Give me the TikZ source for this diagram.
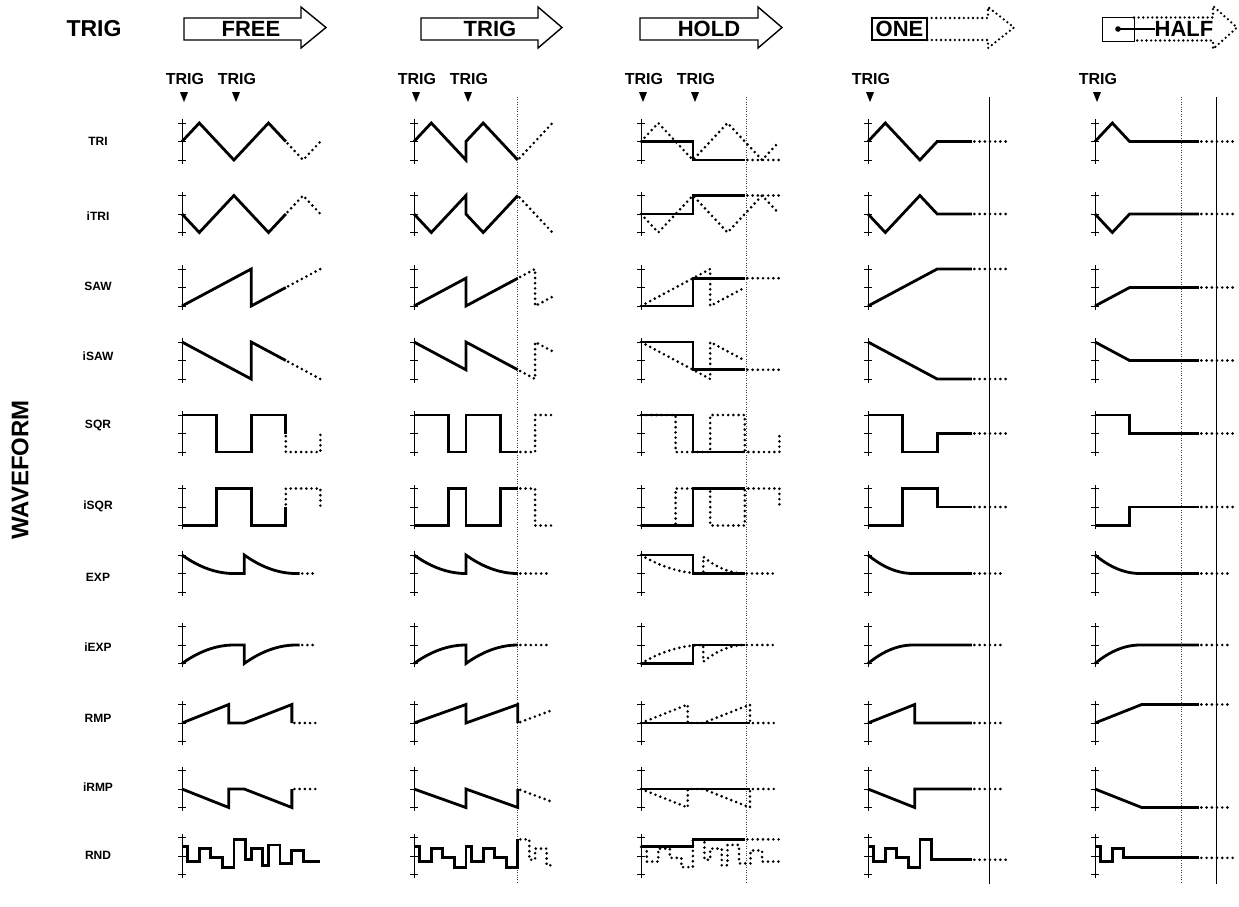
\documentclass[tikz,border=0pt]{standalone}
\usepackage{fontspec}
\setmainfont{Liberation Sans}
\newcommand\wcell[3]{%
 \begin{scope}[shift={(#1,#2)},xscale=17.3,yscale=-18.5]
 \draw[axisln] (0,-1.2) -- (0,1.2) (-0.23,1)--(0.23,1) (-0.23,0)--(0.23,0) (-0.23,-1)--(0.23,-1);
 #3
 \end{scope}}
\begin{document}
\begin{tikzpicture}[x=1pt,y=-1pt,
 wave/.style={line width=2.8pt, line join=miter, miter limit=6},
 dotw/.style={line width=2.9pt, line cap=round, dash pattern=on 0pt off 5.2pt},
 dotc/.style={dotw, dash phase=2.6pt},
 axisln/.style={line width=1pt},
 gdot/.style={line width=0.6pt, black!75, dash pattern=on 0.9pt off 1.5pt},
 gsolid/.style={line width=1pt},
 rowlbl/.style={font=\fontsize{12}{13}\selectfont\bfseries, inner sep=0pt},
 triglbl/.style={font=\fontsize{16}{17}\selectfont\bfseries, inner sep=0pt},
 hdr/.style={font=\fontsize{22}{23}\selectfont\bfseries, inner sep=0pt},
 arrowbox/.style={line width=1.4pt, line join=miter},
 arrowdot/.style={line width=2.6pt, line cap=round, dash pattern=on 0pt off 4.6pt}
]
\fill[white] (0,0) rectangle (1239,906);
\useasboundingbox (0,0) rectangle (1239,906);

% ---------- header ----------
\node[hdr, font=\fontsize{23}{24}\selectfont\bfseries] (hTrig) at (94,28.5) {TRIG};
\node[rotate=90, font=\fontsize{24}{25}\selectfont\bfseries, inner sep=0pt] (wav) at (20,470) {WAVEFORM};

\draw[arrowbox] (184,18)--(301,18)--(301,7)--(326,27.5)--(301,48)--(301,40)--(184,40)--cycle;
\node[hdr] (aFree) at (251,29) {FREE};
\draw[arrowbox] (421,18)--(538,18)--(538,7)--(562,27.5)--(538,48)--(538,40)--(421,40)--cycle;
\node[hdr] (aTrig) at (490,29) {TRIG};
\draw[arrowbox] (640,18)--(758,18)--(758,7)--(782,27.5)--(758,48)--(758,40)--(640,40)--cycle;
\node[hdr] (aHold) at (709,29) {HOLD};
\draw[arrowdot] (927,18)--(988,18)--(988,7)--(1014,27.5)--(988,48)--(988,40)--(927,40);
\draw[line width=1.8pt] (872,18) rectangle (927,40);
\node[hdr] (aOne) at (899.5,29) {ONE};
\draw[arrowdot] (1134,17.5)--(1213,17.5)--(1213,6)--(1237,27.5)--(1213,49)--(1213,40.5)--(1134,40.5);
\draw[line width=0.8pt] (1102,17) rectangle (1134,41);
\fill (1118,29) circle (2.8);
\draw[line width=1.3pt] (1118,29) -- (1155,29);
\node[hdr] (aHalf) at (1184,29) {HALF};

% ---------- trig markers ----------
\node[triglbl] (m1a) at (185,79) {TRIG};
\node[triglbl] (m1b) at (237,79) {TRIG};
\node[triglbl] (m2a) at (417,79) {TRIG};
\node[triglbl] (m2b) at (469,79) {TRIG};
\node[triglbl] (m3a) at (644,79) {TRIG};
\node[triglbl] (m3b) at (696,79) {TRIG};
\node[triglbl] (m4a) at (871,79) {TRIG};
\node[triglbl] (m5a) at (1098,79) {TRIG};
\foreach \mx in {184,236,416,468,643,695,870,1097}
  \fill (\mx-4,92)--(\mx+4,92)--(\mx,102)--cycle;

% ---------- guide lines ----------
\draw[gdot] (517,97) -- (517,884);
\draw[gdot] (746,97) -- (746,884);
\draw[gsolid] (989,97) -- (989,884);
\draw[gdot] (1181.5,97) -- (1181.5,884);
\draw[gsolid] (1216,97) -- (1216,884);

% ---------- row labels ----------
\node[rowlbl] (lTRI) at (98,141) {TRI};
\node[rowlbl] (liTRI) at (98,216) {iTRI};
\node[rowlbl] (lSAW) at (98,286) {SAW};
\node[rowlbl] (liSAW) at (98,356) {iSAW};
\node[rowlbl] (lSQR) at (98,425) {SQR};
\node[rowlbl] (liSQR) at (98,506) {iSQR};
\node[rowlbl] (lEXP) at (98,577) {EXP};
\node[rowlbl] (liEXP) at (98,647) {iEXP};
\node[rowlbl] (lRMP) at (98,718) {RMP};
\node[rowlbl] (liRMP) at (98,787) {iRMP};
\node[rowlbl] (lRND) at (98,855) {RND};

% ================= FREE =================
\wcell{182}{141.5}{\draw[wave] (0,0)--(1,1)--(3,-1)--(5,1)--(6,0); \draw[dotc] (6,0)--(7,-1)--(8,0);}
\wcell{182}{214}{\draw[wave] (0,0)--(1,-1)--(3,1)--(5,-1)--(6,0); \draw[dotc] (6,0)--(7,1)--(8,0);}
\wcell{182}{287.5}{\draw[wave] (0,-1)--(4,1)--(4,-1)--(6,0); \draw[dotc] (6,0)--(8,1);}
\wcell{182}{360.5}{\draw[wave] (0,1)--(4,-1)--(4,1)--(6,0); \draw[dotc] (6,0)--(8,-1);}
\wcell{182}{433.5}{\draw[wave] (0,1)--(2,1)--(2,-1)--(4,-1)--(4,1)--(6,1)--(6,0); \draw[dotc] (6,0)--(6,-1)--(8,-1)--(8,0);}
\wcell{182}{507}{\draw[wave] (0,-1)--(2,-1)--(2,1)--(4,1)--(4,-1)--(6,-1)--(6,0); \draw[dotc] (6,0)--(6,1)--(8,1)--(8,0);}
\wcell{182}{573.5}{\draw[wave] plot[domain=0:3,samples=25] (\x,{(1-\x/3)^2}) -- (3.6,0) -- plot[domain=3.6:6.6,samples=25] (\x,{(1-(\x-3.6)/3)^2}) -- (6.8,0); \draw[dotc] (6.8,0)--(7.8,0);}
\wcell{182}{645}{\draw[wave] plot[domain=0:3,samples=25] (\x,{-(1-\x/3)^2}) -- (3.6,0) -- plot[domain=3.6:6.6,samples=25] (\x,{-(1-(\x-3.6)/3)^2}) -- (6.8,0); \draw[dotc] (6.8,0)--(7.8,0);}
\wcell{182}{723}{\draw[wave] (0,0)--(2.7,1)--(2.7,0)--(3.6,0)--(6.35,1)--(6.35,0); \draw[dotc] (6.35,0)--(7.8,0);}
\wcell{182}{789}{\draw[wave] (0,0)--(2.7,-1)--(2.7,0)--(3.6,0)--(6.35,-1)--(6.35,0); \draw[dotc] (6.35,0)--(7.8,0);}
\wcell{182}{856}{\draw[wave] (0,0.5)--(0.333,0.5)--(0.333,-0.3)--(1,-0.3)--(1,0.4)--(1.667,0.4)--(1.667,-0.1)--(2.333,-0.1)--(2.333,-0.6)--(3,-0.6)--(3,0.9)--(3.667,0.9)--(3.667,-0.2)--(4,-0.2)--(4,0.4)--(4.667,0.4)--(4.667,-0.5)--(5,-0.5)--(5,0.6)--(5.667,0.6)--(5.667,-0.4)--(6.333,-0.4)--(6.333,0.3)--(7,0.3)--(7,-0.3)--(8,-0.3);}

% ================= TRIG =================
\wcell{414}{141.5}{\draw[wave] (0,0)--(1,1)--(3,-1)--(3,0)--(4,1)--(6,-1); \draw[dotc] (6,-1)--(8,1);}
\wcell{414}{214}{\draw[wave] (0,0)--(1,-1)--(3,1)--(3,0)--(4,-1)--(6,1); \draw[dotc] (6,1)--(8,-1);}
\wcell{414}{287.5}{\draw[wave] (0,-1)--(3,0.5)--(3,-1)--(6,0.5); \draw[dotc] (6,0.5)--(7,1)--(7,-1)--(8,-0.5);}
\wcell{414}{360.5}{\draw[wave] (0,1)--(3,-0.5)--(3,1)--(6,-0.5); \draw[dotc] (6,-0.5)--(7,-1)--(7,1)--(8,0.5);}
\wcell{414}{433.5}{\draw[wave] (0,1)--(2,1)--(2,-1)--(3,-1)--(3,1)--(5,1)--(5,-1)--(6,-1); \draw[dotc] (6,-1)--(7,-1)--(7,1)--(8,1);}
\wcell{414}{507}{\draw[wave] (0,-1)--(2,-1)--(2,1)--(3,1)--(3,-1)--(5,-1)--(5,1)--(6,1); \draw[dotc] (6,1)--(7,1)--(7,-1)--(8,-1);}
\wcell{414}{573.5}{\draw[wave] plot[domain=0:3,samples=25] (\x,{(1-\x/3)^2}) -- plot[domain=3:6,samples=25] (\x,{(1-(\x-3)/3)^2}); \draw[dotc] (6,0)--(7.8,0);}
\wcell{414}{645}{\draw[wave] plot[domain=0:3,samples=25] (\x,{-(1-\x/3)^2}) -- plot[domain=3:6,samples=25] (\x,{-(1-(\x-3)/3)^2}); \draw[dotc] (6,0)--(7.8,0);}
\wcell{414}{723}{\draw[wave] (0,0)--(3,1)--(3,0)--(6,1)--(6,0); \draw[dotc] (6,0)--(8,0.7);}
\wcell{414}{789}{\draw[wave] (0,0)--(3,-1)--(3,0)--(6,-1)--(6,0); \draw[dotc] (6,0)--(8,-0.7);}
\wcell{414}{856}{\draw[wave] (0,0.5)--(0.333,0.5)--(0.333,-0.3)--(1,-0.3)--(1,0.4)--(1.667,0.4)--(1.667,-0.1)--(2.333,-0.1)--(2.333,-0.6)--(3,-0.6)--(3,0.5)--(3.333,0.5)--(3.333,-0.3)--(4,-0.3)--(4,0.4)--(4.667,0.4)--(4.667,-0.1)--(5.333,-0.1)--(5.333,-0.6)--(6,-0.6)--(6,0.9); \draw[dotc] (6,0.9)--(6.667,0.9)--(6.667,-0.2)--(7,-0.2)--(7,0.4)--(7.667,0.4)--(7.667,-0.5)--(8,-0.5);}

% ================= HOLD =================
\wcell{641}{141.5}{\draw[dotw] (0,0)--(1,1)--(3,-1)--(5,1)--(7,-1)--(8,0); \draw[wave] (0,0)--(3,0)--(3,-1)--(6,-1); \draw[dotc] (6,-1)--(8,-1);}
\wcell{641}{214}{\draw[dotw] (0,0)--(1,-1)--(3,1)--(5,-1)--(7,1)--(8,0); \draw[wave] (0,0)--(3,0)--(3,1)--(6,1); \draw[dotc] (6,1)--(8,1);}
\wcell{641}{287.5}{\draw[dotw] (0,-1)--(4,1)--(4,-1)--(6,0); \draw[wave] (0,-1)--(3,-1)--(3,0.5)--(6,0.5); \draw[dotc] (6,0.5)--(8,0.5);}
\wcell{641}{360.5}{\draw[dotw] (0,1)--(4,-1)--(4,1)--(6,0); \draw[wave] (0,1)--(3,1)--(3,-0.5)--(6,-0.5); \draw[dotc] (6,-0.5)--(8,-0.5);}
\wcell{641}{433.5}{\draw[dotw] (0,1)--(2,1)--(2,-1)--(4,-1)--(4,1)--(6,1)--(6,-1)--(8,-1)--(8,0); \draw[wave] (0,1)--(3,1)--(3,-1)--(6,-1);}
\wcell{641}{507}{\draw[dotw] (0,-1)--(2,-1)--(2,1)--(4,1)--(4,-1)--(6,-1)--(6,1)--(8,1)--(8,0); \draw[wave] (0,-1)--(3,-1)--(3,1)--(6,1);}
\wcell{641}{573.5}{\draw[dotw] plot[domain=0:3.6,samples=25] (\x,{(1-\x/3.6)^2}) -- (3.6,0.9) -- plot[domain=3.6:6,samples=20] (\x,{0.9*(1-(\x-3.6)/2.4)^2}) -- (7.8,0); \draw[wave] (0,1)--(3,1)--(3,0)--(6,0);}
\wcell{641}{645}{\draw[dotw] plot[domain=0:3.6,samples=25] (\x,{-(1-\x/3.6)^2}) -- (3.6,-0.9) -- plot[domain=3.6:6,samples=20] (\x,{-0.9*(1-(\x-3.6)/2.4)^2}) -- (7.8,0); \draw[wave] (0,-1)--(3,-1)--(3,0)--(6,0);}
\wcell{641}{723}{\draw[dotw] (0,0)--(2.7,1)--(2.7,0)--(3.6,0)--(6.3,1)--(6.3,0)--(7.8,0); \draw[wave] (0,0)--(6.3,0);}
\wcell{641}{789}{\draw[dotw] (0,0)--(2.7,-1)--(2.7,0)--(3.6,0)--(6.3,-1)--(6.3,0)--(7.8,0); \draw[wave] (0,0)--(6.3,0);}
\wcell{641}{856}{\draw[dotw] (0,0.5)--(0.333,0.5)--(0.333,-0.3)--(1,-0.3)--(1,0.4)--(1.667,0.4)--(1.667,-0.1)--(2.333,-0.1)--(2.333,-0.6)--(3,-0.6)--(3,0.9)--(3.667,0.9)--(3.667,-0.2)--(4,-0.2)--(4,0.4)--(4.667,0.4)--(4.667,-0.5)--(5,-0.5)--(5,0.6)--(5.667,0.6)--(5.667,-0.4)--(6.333,-0.4)--(6.333,0.3)--(7,0.3)--(7,-0.3)--(8,-0.3); \draw[wave] (0,0.5)--(3,0.5)--(3,0.9)--(6,0.9); \draw[dotc] (6,0.9)--(8,0.9);}

% ================= ONE =================
\wcell{868}{141.5}{\draw[wave] (0,0)--(1,1)--(3,-1)--(4,0)--(6,0); \draw[dotc] (6,0)--(8,0);}
\wcell{868}{214}{\draw[wave] (0,0)--(1,-1)--(3,1)--(4,0)--(6,0); \draw[dotc] (6,0)--(8,0);}
\wcell{868}{287.5}{\draw[wave] (0,-1)--(4,1)--(6,1); \draw[dotc] (6,1)--(8,1);}
\wcell{868}{360.5}{\draw[wave] (0,1)--(4,-1)--(6,-1); \draw[dotc] (6,-1)--(8,-1);}
\wcell{868}{433.5}{\draw[wave] (0,1)--(2,1)--(2,-1)--(4,-1)--(4,0)--(6,0); \draw[dotc] (6,0)--(8,0);}
\wcell{868}{507}{\draw[wave] (0,-1)--(2,-1)--(2,1)--(4,1)--(4,0)--(6,0); \draw[dotc] (6,0)--(8,0);}
\wcell{868}{573.5}{\draw[wave] plot[domain=0:2.6,samples=25] (\x,{(1-\x/2.6)^2}) -- (6,0); \draw[dotc] (6,0)--(7.8,0);}
\wcell{868}{645}{\draw[wave] plot[domain=0:2.6,samples=25] (\x,{-(1-\x/2.6)^2}) -- (6,0); \draw[dotc] (6,0)--(7.8,0);}
\wcell{868}{723}{\draw[wave] (0,0)--(2.7,1)--(2.7,0)--(6,0); \draw[dotc] (6,0)--(7.8,0);}
\wcell{868}{789}{\draw[wave] (0,0)--(2.7,-1)--(2.7,0)--(6,0); \draw[dotc] (6,0)--(7.8,0);}
\wcell{868}{856}{\draw[wave] (0,0.5)--(0.333,0.5)--(0.333,-0.3)--(1,-0.3)--(1,0.4)--(1.667,0.4)--(1.667,-0.1)--(2.333,-0.1)--(2.333,-0.6)--(3,-0.6)--(3,0.9)--(3.667,0.9)--(3.667,-0.2)--(6,-0.2); \draw[dotc] (6,-0.2)--(8,-0.2);}

% ================= HALF =================
\wcell{1095}{141.5}{\draw[wave] (0,0)--(1,1)--(2,0)--(6,0); \draw[dotc] (6,0)--(8,0);}
\wcell{1095}{214}{\draw[wave] (0,0)--(1,-1)--(2,0)--(6,0); \draw[dotc] (6,0)--(8,0);}
\wcell{1095}{287.5}{\draw[wave] (0,-1)--(2,0)--(6,0); \draw[dotc] (6,0)--(8,0);}
\wcell{1095}{360.5}{\draw[wave] (0,1)--(2,0)--(6,0); \draw[dotc] (6,0)--(8,0);}
\wcell{1095}{433.5}{\draw[wave] (0,1)--(2,1)--(2,0)--(6,0); \draw[dotc] (6,0)--(8,0);}
\wcell{1095}{507}{\draw[wave] (0,-1)--(2,-1)--(2,0)--(6,0); \draw[dotc] (6,0)--(8,0);}
\wcell{1095}{573.5}{\draw[wave] plot[domain=0:2.6,samples=25] (\x,{(1-\x/2.6)^2}) -- (6,0); \draw[dotc] (6,0)--(7.8,0);}
\wcell{1095}{645}{\draw[wave] plot[domain=0:2.6,samples=25] (\x,{-(1-\x/2.6)^2}) -- (6,0); \draw[dotc] (6,0)--(7.8,0);}
\wcell{1095}{723}{\draw[wave] (0,0)--(2.7,1)--(6,1); \draw[dotc] (6,1)--(7.8,1);}
\wcell{1095}{789}{\draw[wave] (0,0)--(2.7,-1)--(6,-1); \draw[dotc] (6,-1)--(7.8,-1);}
\wcell{1095}{856}{\draw[wave] (0,0.5)--(0.333,0.5)--(0.333,-0.3)--(1,-0.3)--(1,0.4)--(1.667,0.4)--(1.667,-0.1)--(6,-0.1); \draw[dotc] (6,-0.1)--(8,-0.1);}
\end{tikzpicture}
\end{document}
